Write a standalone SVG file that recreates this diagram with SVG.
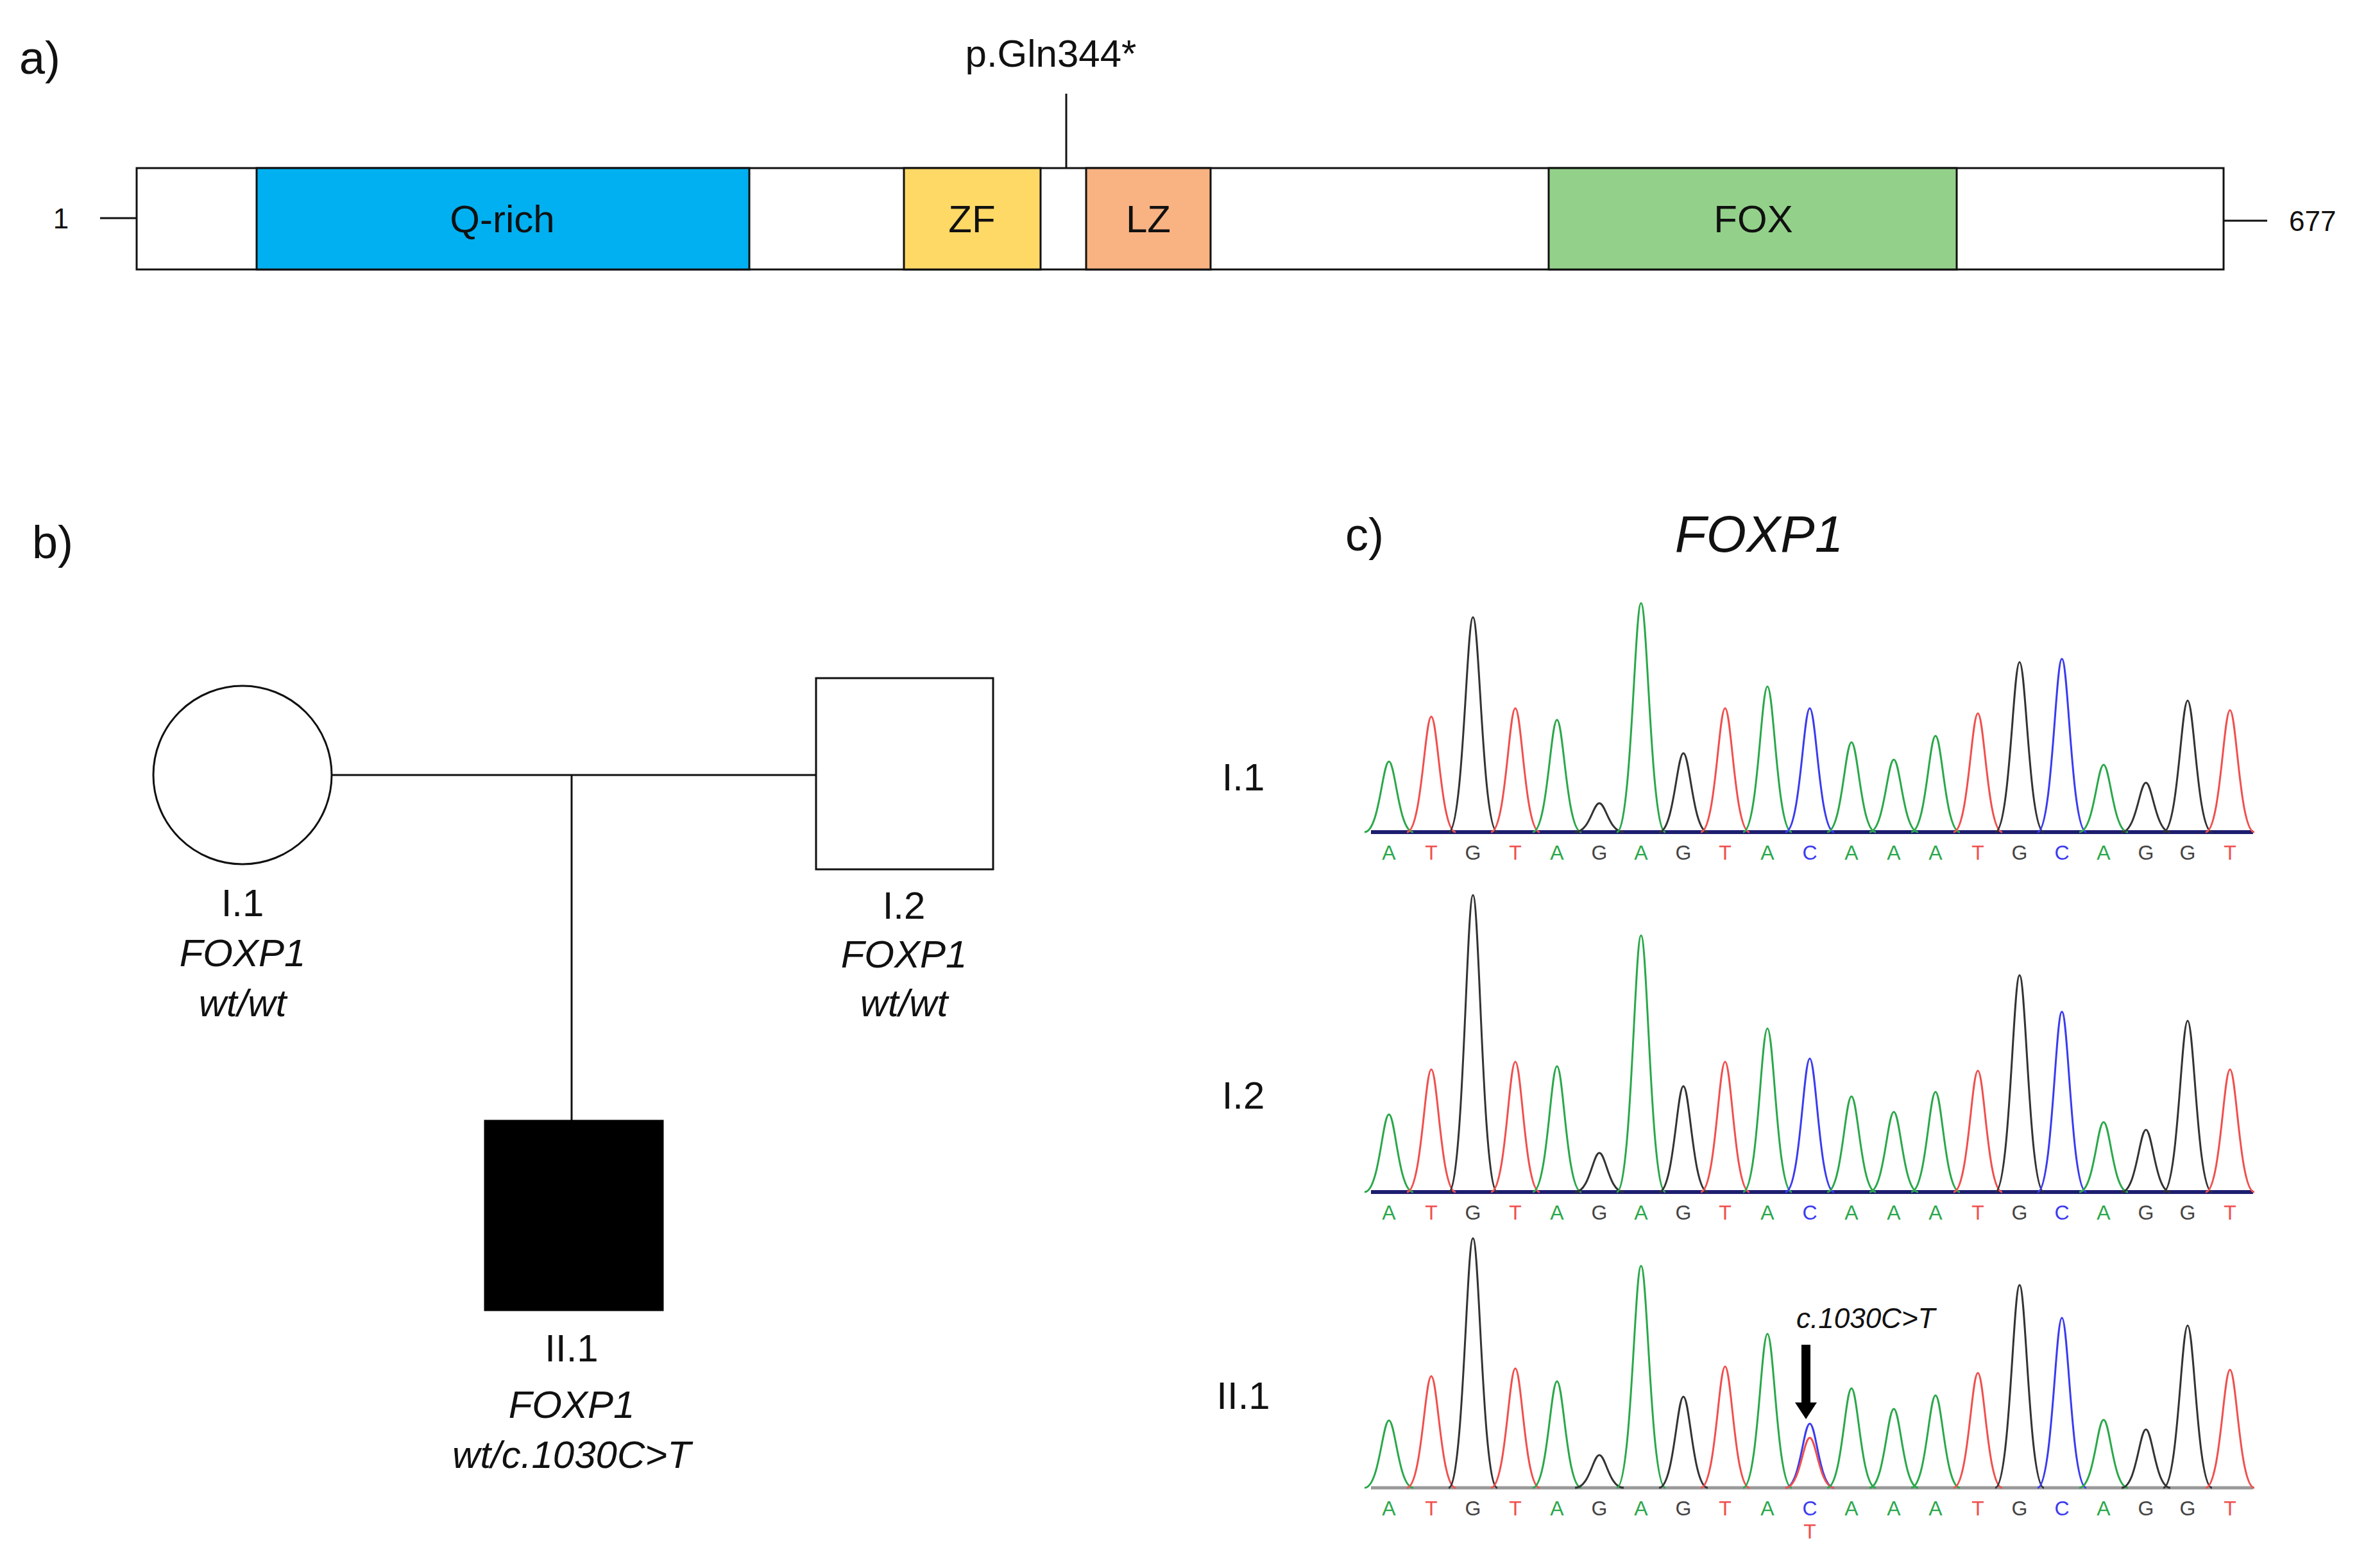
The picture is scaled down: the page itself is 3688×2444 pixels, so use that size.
<svg xmlns="http://www.w3.org/2000/svg" width="3688" height="2444" viewBox="0 0 3688 2444">
<style>
text{font-family:"Liberation Sans",Arial,sans-serif;fill:#111}
.lab{font-size:60px}
.it{font-style:italic}
.dom{stroke:#111;stroke-width:3}
.ln{stroke:#111;stroke-width:3;fill:none}
.pk{fill:none;stroke-width:3}
.A{stroke:#2aa84a}.T{stroke:#f0504e}.G{stroke:#333}.C{stroke:#3b3bf0}
.bA{fill:#2aa84a}.bT{fill:#f0504e}.bG{fill:#444}.bC{fill:#3b3bf0}
.base{font-size:32px;text-anchor:middle}
</style>
<text x="30" y="115" style="font-size:72px">a)</text>
<text x="1638" y="104" class="lab" text-anchor="middle">p.Gln344*</text>
<line x1="1662" y1="146" x2="1662" y2="262" class="ln"/>
<line x1="156" y1="340" x2="213" y2="340" class="ln"/>
<line x1="3466" y1="344" x2="3534" y2="344" class="ln"/>
<text x="95" y="356" style="font-size:44px" text-anchor="middle">1</text>
<text x="3568" y="360" style="font-size:44px">677</text>
<g id="protein">
<rect x="213" y="262" width="3253" height="158" fill="#fff" class="dom"/>
<rect x="400" y="262" width="768" height="158" fill="#00b0f0" class="dom"/>
<rect x="1409" y="262" width="213" height="158" fill="#ffd966" class="dom"/>
<rect x="1693" y="262" width="194" height="158" fill="#f9b282" class="dom"/>
<rect x="2414" y="262" width="636" height="158" fill="#93d18a" class="dom"/>
<text x="783" y="362" class="lab" text-anchor="middle">Q-rich</text>
<text x="1515" y="362" class="lab" text-anchor="middle">ZF</text>
<text x="1790" y="362" class="lab" text-anchor="middle">LZ</text>
<text x="2733" y="362" class="lab" text-anchor="middle">FOX</text>
</g>
<text x="50" y="870" style="font-size:72px">b)</text>
<g id="connectors">
<line x1="517" y1="1208" x2="1272" y2="1208" class="ln"/>
<line x1="891" y1="1208" x2="891" y2="1747" class="ln"/>
</g>
<g id="I1"><circle cx="378" cy="1208" r="139" fill="#fff" class="ln"/>
<text x="378" y="1428" class="lab" text-anchor="middle">I.1</text>
<text x="378" y="1506" class="lab it" text-anchor="middle">FOXP1</text>
<text x="378" y="1584" class="lab it" text-anchor="middle">wt/wt</text></g>
<g id="I2"><rect x="1272" y="1057" width="276" height="298" fill="#fff" class="ln"/>
<text x="1409" y="1432" class="lab" text-anchor="middle">I.2</text>
<text x="1409" y="1508" class="lab it" text-anchor="middle">FOXP1</text>
<text x="1409" y="1584" class="lab it" text-anchor="middle">wt/wt</text></g>
<g id="II1"><rect x="756" y="1747" width="277" height="295" fill="#000" stroke="#000" stroke-width="3"/>
<text x="891" y="2122" class="lab" text-anchor="middle">II.1</text>
<text x="891" y="2210" class="lab it" text-anchor="middle">FOXP1</text>
<text x="891" y="2288" class="lab it" text-anchor="middle">wt/c.1030C&gt;T</text></g>
<text x="2097" y="858" style="font-size:72px">c)</text>
<text x="2742" y="860" class="it" style="font-size:80px" text-anchor="middle">FOXP1</text>
<text x="1938" y="1232" class="lab" text-anchor="middle">I.1</text>
<text x="1938" y="1728" class="lab" text-anchor="middle">I.2</text>
<text x="1938" y="2196" class="lab" text-anchor="middle">II.1</text>
<g id="trace1">
<line x1="2137" y1="1297" x2="3512" y2="1297" stroke="#1d1d70" stroke-width="6"/>
<path class="pk A" d="M2127 1297C2150 1297 2155 1187 2165 1187S2180 1297 2203 1297"/>
<path class="pk T" d="M2193 1297C2216 1297 2221 1117 2231 1117S2246 1297 2269 1297"/>
<path class="pk G" d="M2258 1297C2281 1297 2286 962 2296 962S2311 1297 2334 1297"/>
<path class="pk T" d="M2324 1297C2347 1297 2352 1104 2362 1104S2377 1297 2400 1297"/>
<path class="pk A" d="M2389 1297C2412 1297 2417 1122 2427 1122S2442 1297 2465 1297"/>
<path class="pk G" d="M2455 1297C2478 1297 2483 1252 2493 1252S2508 1297 2531 1297"/>
<path class="pk A" d="M2520 1297C2543 1297 2548 940 2558 940S2573 1297 2596 1297"/>
<path class="pk G" d="M2586 1297C2609 1297 2614 1174 2624 1174S2639 1297 2662 1297"/>
<path class="pk T" d="M2651 1297C2674 1297 2679 1104 2689 1104S2704 1297 2727 1297"/>
<path class="pk A" d="M2717 1297C2740 1297 2745 1070 2755 1070S2770 1297 2793 1297"/>
<path class="pk C" d="M2783 1297C2806 1297 2811 1104 2821 1104S2836 1297 2859 1297"/>
<path class="pk A" d="M2848 1297C2871 1297 2876 1157 2886 1157S2901 1297 2924 1297"/>
<path class="pk A" d="M2914 1297C2937 1297 2942 1184 2952 1184S2967 1297 2990 1297"/>
<path class="pk A" d="M2979 1297C3002 1297 3007 1147 3017 1147S3032 1297 3055 1297"/>
<path class="pk T" d="M3045 1297C3068 1297 3073 1112 3083 1112S3098 1297 3121 1297"/>
<path class="pk G" d="M3110 1297C3133 1297 3138 1032 3148 1032S3163 1297 3186 1297"/>
<path class="pk C" d="M3176 1297C3199 1297 3204 1027 3214 1027S3229 1297 3252 1297"/>
<path class="pk A" d="M3241 1297C3264 1297 3269 1192 3279 1192S3294 1297 3317 1297"/>
<path class="pk G" d="M3307 1297C3330 1297 3335 1220 3345 1220S3360 1297 3383 1297"/>
<path class="pk G" d="M3372 1297C3395 1297 3400 1092 3410 1092S3425 1297 3448 1297"/>
<path class="pk T" d="M3438 1297C3461 1297 3466 1107 3476 1107S3491 1297 3514 1297"/>
</g>
<g id="trace2">
<line x1="2137" y1="1858" x2="3512" y2="1858" stroke="#1d1d70" stroke-width="6"/>
<path class="pk A" d="M2127 1858C2150 1858 2155 1737 2165 1737S2180 1858 2203 1858"/>
<path class="pk T" d="M2193 1858C2216 1858 2221 1667 2231 1667S2246 1858 2269 1858"/>
<path class="pk G" d="M2258 1858C2281 1858 2286 1395 2296 1395S2311 1858 2334 1858"/>
<path class="pk T" d="M2324 1858C2347 1858 2352 1655 2362 1655S2377 1858 2400 1858"/>
<path class="pk A" d="M2389 1858C2412 1858 2417 1662 2427 1662S2442 1858 2465 1858"/>
<path class="pk G" d="M2455 1858C2478 1858 2483 1797 2493 1797S2508 1858 2531 1858"/>
<path class="pk A" d="M2520 1858C2543 1858 2548 1458 2558 1458S2573 1858 2596 1858"/>
<path class="pk G" d="M2586 1858C2609 1858 2614 1693 2624 1693S2639 1858 2662 1858"/>
<path class="pk T" d="M2651 1858C2674 1858 2679 1655 2689 1655S2704 1858 2727 1858"/>
<path class="pk A" d="M2717 1858C2740 1858 2745 1603 2755 1603S2770 1858 2793 1858"/>
<path class="pk C" d="M2783 1858C2806 1858 2811 1650 2821 1650S2836 1858 2859 1858"/>
<path class="pk A" d="M2848 1858C2871 1858 2876 1709 2886 1709S2901 1858 2924 1858"/>
<path class="pk A" d="M2914 1858C2937 1858 2942 1733 2952 1733S2967 1858 2990 1858"/>
<path class="pk A" d="M2979 1858C3002 1858 3007 1702 3017 1702S3032 1858 3055 1858"/>
<path class="pk T" d="M3045 1858C3068 1858 3073 1669 3083 1669S3098 1858 3121 1858"/>
<path class="pk G" d="M3110 1858C3133 1858 3138 1520 3148 1520S3163 1858 3186 1858"/>
<path class="pk C" d="M3176 1858C3199 1858 3204 1577 3214 1577S3229 1858 3252 1858"/>
<path class="pk A" d="M3241 1858C3264 1858 3269 1749 3279 1749S3294 1858 3317 1858"/>
<path class="pk G" d="M3307 1858C3330 1858 3335 1761 3345 1761S3360 1858 3383 1858"/>
<path class="pk G" d="M3372 1858C3395 1858 3400 1591 3410 1591S3425 1858 3448 1858"/>
<path class="pk T" d="M3438 1858C3461 1858 3466 1667 3476 1667S3491 1858 3514 1858"/>
</g>
<g id="trace3">
<line x1="2137" y1="2319" x2="3512" y2="2319" stroke="#999" stroke-width="5"/>
<path class="pk A" d="M2127 2319C2150 2319 2155 2214 2165 2214S2180 2319 2203 2319"/>
<path class="pk T" d="M2193 2319C2216 2319 2221 2145 2231 2145S2246 2319 2269 2319"/>
<path class="pk G" d="M2258 2319C2281 2319 2286 1930 2296 1930S2311 2319 2334 2319"/>
<path class="pk T" d="M2324 2319C2347 2319 2352 2133 2362 2133S2377 2319 2400 2319"/>
<path class="pk A" d="M2389 2319C2412 2319 2417 2153 2427 2153S2442 2319 2465 2319"/>
<path class="pk G" d="M2455 2319C2478 2319 2483 2268 2493 2268S2508 2319 2531 2319"/>
<path class="pk A" d="M2520 2319C2543 2319 2548 1973 2558 1973S2573 2319 2596 2319"/>
<path class="pk G" d="M2586 2319C2609 2319 2614 2177 2624 2177S2639 2319 2662 2319"/>
<path class="pk T" d="M2651 2319C2674 2319 2679 2130 2689 2130S2704 2319 2727 2319"/>
<path class="pk A" d="M2717 2319C2740 2319 2745 2079 2755 2079S2770 2319 2793 2319"/>
<path class="pk C" d="M2783 2319C2806 2319 2811 2219 2821 2219S2836 2319 2859 2319"/>
<path class="pk T" d="M2783 2319C2806 2319 2811 2241 2821 2241S2836 2319 2859 2319"/>
<path class="pk A" d="M2848 2319C2871 2319 2876 2164 2886 2164S2901 2319 2924 2319"/>
<path class="pk A" d="M2914 2319C2937 2319 2942 2196 2952 2196S2967 2319 2990 2319"/>
<path class="pk A" d="M2979 2319C3002 2319 3007 2175 3017 2175S3032 2319 3055 2319"/>
<path class="pk T" d="M3045 2319C3068 2319 3073 2140 3083 2140S3098 2319 3121 2319"/>
<path class="pk G" d="M3110 2319C3133 2319 3138 2003 3148 2003S3163 2319 3186 2319"/>
<path class="pk C" d="M3176 2319C3199 2319 3204 2054 3214 2054S3229 2319 3252 2319"/>
<path class="pk A" d="M3241 2319C3264 2319 3269 2213 3279 2213S3294 2319 3317 2319"/>
<path class="pk G" d="M3307 2319C3330 2319 3335 2228 3345 2228S3360 2319 3383 2319"/>
<path class="pk G" d="M3372 2319C3395 2319 3400 2066 3410 2066S3425 2319 3448 2319"/>
<path class="pk T" d="M3438 2319C3461 2319 3466 2135 3476 2135S3491 2319 3514 2319"/>
</g>
<g id="seq1" class="base">
<text x="2165" y="1340" class="base bA">A</text><text x="2231" y="1340" class="base bT">T</text><text x="2296" y="1340" class="base bG">G</text><text x="2362" y="1340" class="base bT">T</text><text x="2427" y="1340" class="base bA">A</text><text x="2493" y="1340" class="base bG">G</text><text x="2558" y="1340" class="base bA">A</text><text x="2624" y="1340" class="base bG">G</text><text x="2689" y="1340" class="base bT">T</text><text x="2755" y="1340" class="base bA">A</text><text x="2821" y="1340" class="base bC">C</text><text x="2886" y="1340" class="base bA">A</text><text x="2952" y="1340" class="base bA">A</text><text x="3017" y="1340" class="base bA">A</text><text x="3083" y="1340" class="base bT">T</text><text x="3148" y="1340" class="base bG">G</text><text x="3214" y="1340" class="base bC">C</text><text x="3279" y="1340" class="base bA">A</text><text x="3345" y="1340" class="base bG">G</text><text x="3410" y="1340" class="base bG">G</text><text x="3476" y="1340" class="base bT">T</text>
</g>
<g id="seq2">
<text x="2165" y="1901" class="base bA">A</text><text x="2231" y="1901" class="base bT">T</text><text x="2296" y="1901" class="base bG">G</text><text x="2362" y="1901" class="base bT">T</text><text x="2427" y="1901" class="base bA">A</text><text x="2493" y="1901" class="base bG">G</text><text x="2558" y="1901" class="base bA">A</text><text x="2624" y="1901" class="base bG">G</text><text x="2689" y="1901" class="base bT">T</text><text x="2755" y="1901" class="base bA">A</text><text x="2821" y="1901" class="base bC">C</text><text x="2886" y="1901" class="base bA">A</text><text x="2952" y="1901" class="base bA">A</text><text x="3017" y="1901" class="base bA">A</text><text x="3083" y="1901" class="base bT">T</text><text x="3148" y="1901" class="base bG">G</text><text x="3214" y="1901" class="base bC">C</text><text x="3279" y="1901" class="base bA">A</text><text x="3345" y="1901" class="base bG">G</text><text x="3410" y="1901" class="base bG">G</text><text x="3476" y="1901" class="base bT">T</text>
</g>
<g id="seq3">
<text x="2165" y="2362" class="base bA">A</text><text x="2231" y="2362" class="base bT">T</text><text x="2296" y="2362" class="base bG">G</text><text x="2362" y="2362" class="base bT">T</text><text x="2427" y="2362" class="base bA">A</text><text x="2493" y="2362" class="base bG">G</text><text x="2558" y="2362" class="base bA">A</text><text x="2624" y="2362" class="base bG">G</text><text x="2689" y="2362" class="base bT">T</text><text x="2755" y="2362" class="base bA">A</text><text x="2821" y="2362" class="base bC">C</text><text x="2886" y="2362" class="base bA">A</text><text x="2952" y="2362" class="base bA">A</text><text x="3017" y="2362" class="base bA">A</text><text x="3083" y="2362" class="base bT">T</text><text x="3148" y="2362" class="base bG">G</text><text x="3214" y="2362" class="base bC">C</text><text x="3279" y="2362" class="base bA">A</text><text x="3345" y="2362" class="base bG">G</text><text x="3410" y="2362" class="base bG">G</text><text x="3476" y="2362" class="base bT">T</text>
<text x="2821" y="2398" class="base bT">T</text>
</g>
<g id="mutation">
<text x="2800" y="2070" class="it" style="font-size:44px">c.1030C&gt;T</text>
<rect x="2808" y="2096" width="14" height="92" fill="#000"/>
<polygon points="2798,2186 2832,2186 2815,2212" fill="#000"/>
</g>
</svg>
